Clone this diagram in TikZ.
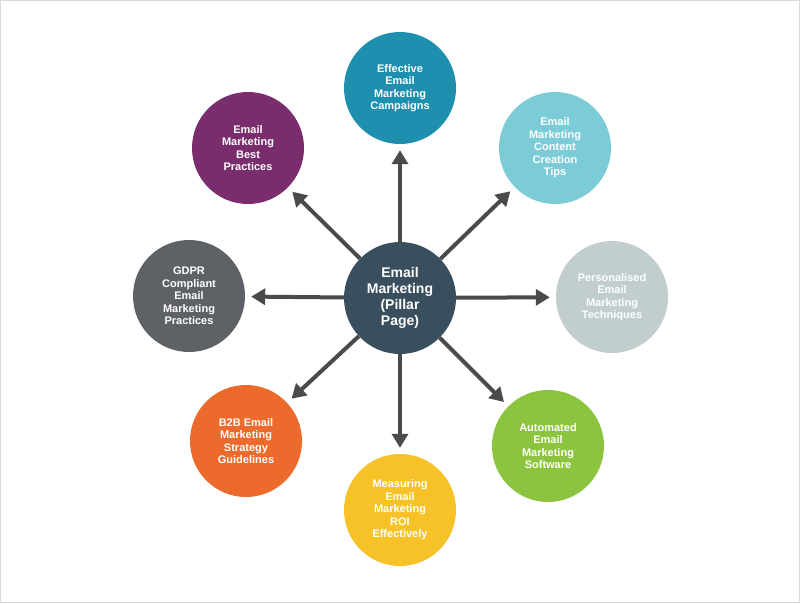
\documentclass[tikz,border=0pt]{standalone}
\usepackage{fontspec}
\setmainfont{Liberation Sans}
\usetikzlibrary{arrows.meta}
\definecolor{cC}{HTML}{3A4F5E}
\definecolor{c1}{HTML}{1E8FAE}
\definecolor{c2}{HTML}{7CCCD8}
\definecolor{c3}{HTML}{C2CDCE}
\definecolor{c4}{HTML}{8CC43F}
\definecolor{c5}{HTML}{F6C228}
\definecolor{c6}{HTML}{EC6A2B}
\definecolor{c7}{HTML}{5E6266}
\definecolor{c8}{HTML}{7A2D6D}
\definecolor{arr}{HTML}{4A4A4A}
\begin{document}
\begin{tikzpicture}[x=1pt,y=-1pt,
  bub/.style={circle,minimum size=112pt,inner sep=0pt,text=white,align=center,
    font=\bfseries\fontsize{11}{12.5}\selectfont},
  con/.style={arr,line width=4pt,-{Triangle[length=14pt,width=16pt]},shorten >=6pt}]
\useasboundingbox (0,0) rectangle (800,603);
\fill[white] (0,0) rectangle (800,603);
\draw[gray!30,line width=1pt] (0.5,0.5) rectangle (799.5,602.5);
\node[bub,fill=cC,font=\bfseries\fontsize{14}{16}\selectfont] (c) at (400,298) {Email\\Marketing\\(Pillar\\Page)};
\node[bub,fill=c1] (n1) at (400,88) {Effective\\Email\\Marketing\\Campaigns};
\node[bub,fill=c2] (n2) at (555,148) {Email\\Marketing\\Content\\Creation\\Tips};
\node[bub,fill=c3] (n3) at (612,297) {Personalised\\Email\\Marketing\\Techniques};
\node[bub,fill=c4] (n4) at (548,446) {Automated\\Email\\Marketing\\Software};
\node[bub,fill=c5] (n5) at (400,510) {Measuring\\Email\\Marketing\\ROI\\Effectively};
\node[bub,fill=c6] (n6) at (246,441) {B2B Email\\Marketing\\Strategy\\Guidelines};
\node[bub,fill=c7] (n7) at (189,296) {GDPR\\Compliant\\Email\\Marketing\\Practices};
\node[bub,fill=c8] (n8) at (248,148) {Email\\Marketing\\Best\\Practices};
\foreach \n in {n1,n2,n3,n4,n5,n6,n7,n8}
  \draw[con] (c) -- (\n);
\end{tikzpicture}
\end{document}
